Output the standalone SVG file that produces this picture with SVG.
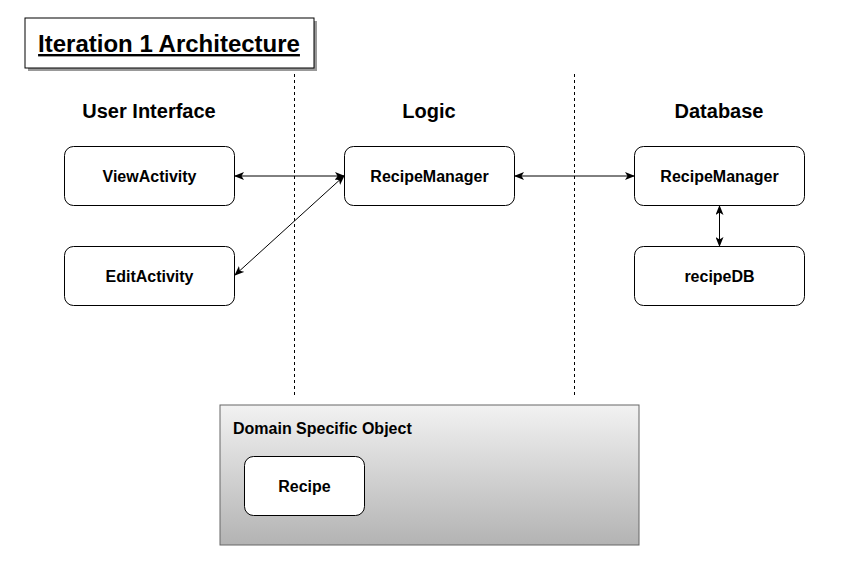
<svg xmlns="http://www.w3.org/2000/svg" width="851" height="576" viewBox="0 0 851 576">
<defs>
<style>
.node{fill:#fff;stroke:#000;stroke-width:1}
.lbl{font-family:"Liberation Sans",Arial,sans-serif;font-weight:bold;font-size:16px;fill:#000;text-anchor:middle}
.hdr{font-family:"Liberation Sans",Arial,sans-serif;font-weight:bold;font-size:20px;fill:#000;text-anchor:middle}
.sep{stroke:#000;stroke-width:1;stroke-dasharray:3 3;fill:none}
.conn{stroke:#000;stroke-width:1;fill:none;marker-start:url(#ah);marker-end:url(#ah)}
</style>
<marker id="ah" viewBox="0 0 10 8" refX="9" refY="4" markerWidth="10" markerHeight="8" markerUnits="userSpaceOnUse" orient="auto-start-reverse">
<path d="M0,0 L10,4 L0,8 L2.5,4 z" fill="#000"/>
</marker>
<linearGradient id="dg" x1="0" y1="0" x2="0" y2="1">
<stop offset="0" stop-color="#f2f2f2"/>
<stop offset="1" stop-color="#b3b3b3"/>
</linearGradient>
</defs>
<rect width="851" height="576" fill="#fff"/>

<g id="title">
<rect x="28" y="21" width="289" height="50" fill="#999"/>
<rect x="25" y="18" width="289" height="50" fill="#fff" stroke="#000"/>
<text x="169" y="52" font-family="Liberation Sans,Arial,sans-serif" font-weight="bold" font-size="24" text-anchor="middle" text-decoration="underline">Iteration 1 Architecture</text>
</g>

<g id="separators">
<line class="sep" x1="294.5" y1="74" x2="294.5" y2="396"/>
<line class="sep" x1="574.5" y1="74" x2="574.5" y2="396"/>
</g>

<g id="headers">
<text class="hdr" x="149" y="118">User Interface</text>
<text class="hdr" x="429" y="118">Logic</text>
<text class="hdr" x="719" y="118">Database</text>
</g>

<g id="domain">
<rect x="220" y="405" width="419" height="140" fill="url(#dg)" stroke="#666"/>
<text x="233" y="434" font-family="Liberation Sans,Arial,sans-serif" font-weight="bold" font-size="16">Domain Specific Object</text>
</g>

<g id="viewActivity">
<rect class="node" x="64.5" y="146.5" width="170" height="59" rx="9"/>
<text class="lbl" x="149.5" y="181.5">ViewActivity</text>
</g>
<g id="editActivity">
<rect class="node" x="64.5" y="246.5" width="170" height="59" rx="9"/>
<text class="lbl" x="149.5" y="281.5">EditActivity</text>
</g>
<g id="logicRecipeManager">
<rect class="node" x="344.5" y="146.5" width="170" height="59" rx="9"/>
<text class="lbl" x="429.5" y="181.5">RecipeManager</text>
</g>
<g id="dbRecipeManager">
<rect class="node" x="634.5" y="146.5" width="170" height="59" rx="9"/>
<text class="lbl" x="719.5" y="181.5">RecipeManager</text>
</g>
<g id="recipeDB">
<rect class="node" x="634.5" y="246.5" width="170" height="59" rx="9"/>
<text class="lbl" x="719.5" y="281.5">recipeDB</text>
</g>
<g id="recipe">
<rect class="node" x="244.5" y="456.5" width="120" height="59" rx="9"/>
<text class="lbl" x="304.5" y="491.5">Recipe</text>
</g>

<g id="connectors">
<line class="conn" x1="235" y1="176" x2="344" y2="176"/>
<line class="conn" x1="235" y1="275" x2="344" y2="176"/>
<line class="conn" x1="515" y1="176" x2="634" y2="176"/>
<line class="conn" x1="719.5" y1="206" x2="719.5" y2="246"/>
</g>
</svg>
